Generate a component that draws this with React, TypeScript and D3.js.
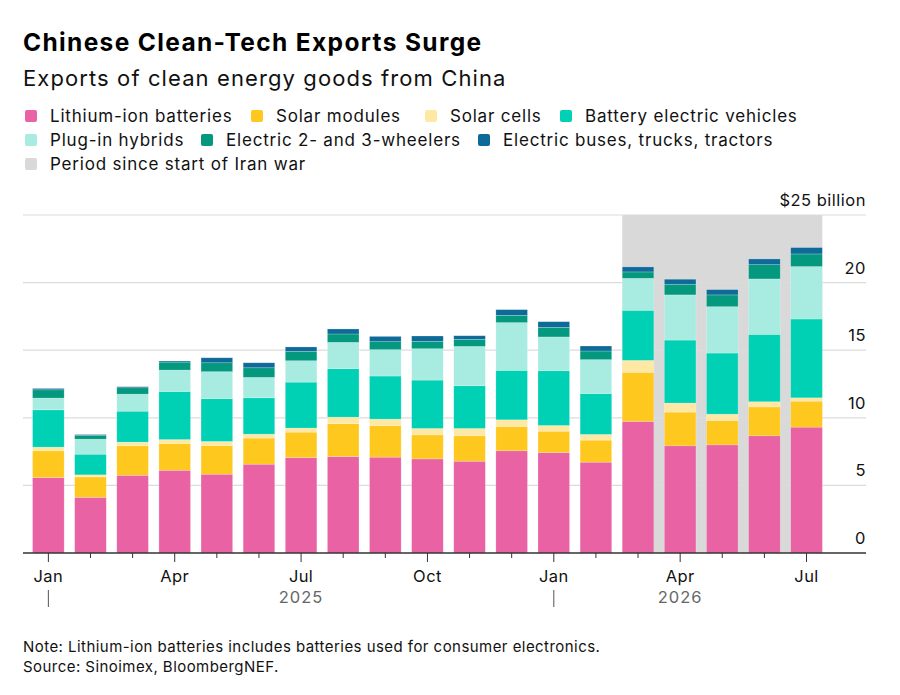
import React from "react";
import * as d3 from "d3";

const months = [
  "2025-01","2025-02","2025-03","2025-04","2025-05","2025-06","2025-07","2025-08","2025-09","2025-10","2025-11","2025-12",
  "2026-01","2026-02","2026-03","2026-04","2026-05","2026-06","2026-07",
];
const monthLabels = ["Jan","","","Apr","","","Jul","","","Oct","","","Jan","","","Apr","","","Jul"];

const lithium = [5.58,4.12,5.75,6.12,5.83,6.57,7.06,7.14,7.09,6.96,6.79,7.56,7.43,6.72,9.73,7.93,8.0,8.67,9.31];
const solarModules = [1.98,1.51,2.18,1.98,2.12,1.93,1.88,2.42,2.34,1.78,1.88,1.8,1.58,1.63,3.63,2.49,1.8,2.14,1.92];
const solarCells = [0.27,0.15,0.27,0.29,0.3,0.29,0.3,0.49,0.47,0.47,0.54,0.49,0.42,0.42,0.89,0.67,0.47,0.38,0.25];
const bev = [2.76,1.53,2.29,3.56,3.16,2.69,3.4,3.58,3.19,3.58,3.16,3.66,4.05,3.03,3.7,4.66,4.52,4.98,5.83];
const phev = [0.87,1.11,1.26,1.58,2.0,1.51,1.58,1.95,1.95,2.32,2.91,3.53,2.5,2.5,2.37,3.34,3.43,4.1,3.88];
const wheelers = [0.61,0.27,0.47,0.59,0.66,0.71,0.69,0.62,0.59,0.54,0.52,0.54,0.71,0.64,0.47,0.79,0.87,1.06,0.93];
const buses = [0.1,0.07,0.08,0.08,0.37,0.37,0.33,0.37,0.39,0.4,0.27,0.42,0.42,0.37,0.37,0.37,0.39,0.42,0.47];

const seriesNames = [
  "Lithium-ion batteries","Solar modules","Solar cells","Battery electric vehicles",
  "Plug-in hybrids","Electric 2- and 3-wheelers","Electric buses, trucks, tractors",
];
const seriesColors = ["#e862a4","#ffc81f","#ffe8a3","#00d1b4","#a8ebe0","#04997f","#0e6b99"];
const seriesValues = [lithium, solarModules, solarCells, bev, phev, wheelers, buses];

const yTicks = [0,5,10,15,20,25];
const shadeStart = "2026-03";
const shadeEnd = "2026-07";
const yearLabels = [{ at: "2025-07", text: "2025" }, { at: "2026-04", text: "2026" }];
const yearSeparators = ["2025-01","2026-01"];

const FONT = "Inter, 'Liberation Sans', Arial, sans-serif";

export default function App() {
  const width = 900, height = 695;
  const left = 23, right = 866;
  const y0 = 553;
  const x = d3.scaleBand<string>().domain(months).range([27.3, 27.3 + 42.12 * months.length]).paddingInner(0.25).paddingOuter(0.125);
  const y = d3.scaleLinear().domain([0, 25]).range([y0, 215]);

  const rows = months.map((m, i) => {
    const r: any = { month: m };
    seriesNames.forEach((s, j) => (r[s] = seriesValues[j][i]));
    return r;
  });
  const stacked = d3.stack<any>().keys(seriesNames)(rows);

  const shadeX0 = x(shadeStart)!;
  const shadeX1 = x(shadeEnd)! + x.bandwidth();

  const legendRows = [
    [{ i: 0, x: 25 }, { i: 1, x: 251 }, { i: 2, x: 425 }, { i: 3, x: 560 }],
    [{ i: 4, x: 25 }, { i: 5, x: 201 }, { i: 6, x: 478 }],
  ];
  const legendY = [116, 140, 164];

  return (
    <svg width={width} height={height} style={{ position: "absolute", left: 0, top: 0, background: "#fff" }} fontFamily={FONT}>
      <text x={23} y={51} fontSize={24.5} fontWeight={700} fill="#000" letterSpacing={1.35}>Chinese Clean-Tech Exports Surge</text>
      <text x={23} y={85.5} fontSize={22} fill="#111" letterSpacing={1.1}>Exports of clean energy goods from China</text>

      {legendRows.map((row, ri) =>
        row.map((it) => (
          <g key={`${ri}-${it.i}`}>
            <rect x={it.x} y={legendY[ri] - 6} width={12} height={12} rx={2} fill={seriesColors[it.i]} />
            <text x={it.x + 25} y={legendY[ri] + 6} fontSize={17} fill="#111" letterSpacing={0.8}>{seriesNames[it.i]}</text>
          </g>
        ))
      )}
      <rect x={25} y={legendY[2] - 6} width={12} height={12} rx={2} fill="#d9d9d9" />
      <text x={50} y={legendY[2] + 6} fontSize={17} fill="#111" letterSpacing={0.8}>Period since start of Iran war</text>

      <rect x={shadeX0} y={y(25)} width={shadeX1 - shadeX0} height={y0 - y(25)} fill="#d9d9d9" />

      {yTicks.map((t) => (
        <g key={t}>
          {t > 0 && <line x1={left} x2={right} y1={y(t)} y2={y(t)} stroke="#dcdcdc" strokeWidth={1.2} />}
          <text x={right} y={y(t) - 9} fontSize={16.5} textAnchor="end" fill="#111" letterSpacing={0.5}>{t === 25 ? "$25 billion" : t}</text>
        </g>
      ))}

      {stacked.map((layer, j) => (
        <g key={layer.key} fill={seriesColors[j]}>
          {layer.map((d, i) => (
            <rect key={i} x={x(months[i])} y={y(d[1])} width={x.bandwidth()} height={y(d[0]) - y(d[1])}
              stroke="#ffffff" strokeOpacity={0.35} strokeWidth={0.6} />
          ))}
        </g>
      ))}

      <line x1={left} x2={right} y1={y0} y2={y0} stroke="#333" strokeWidth={1.3} />
      {months.map((m, i) => {
        const cx = x(m)! + x.bandwidth() / 2;
        const major = monthLabels[i] !== "";
        return (
          <g key={m}>
            <line x1={cx} x2={cx} y1={y0} y2={y0 + (major ? 9 : 5)} stroke="#333" strokeWidth={1} />
            {major && <text x={cx} y={581.5} fontSize={16.5} textAnchor="middle" fill="#111" letterSpacing={0.4}>{monthLabels[i]}</text>}
          </g>
        );
      })}
      {yearSeparators.map((m) => {
        const cx = x(m)! + x.bandwidth() / 2;
        return <line key={m} x1={cx} x2={cx} y1={590} y2={607} stroke="#555" strokeWidth={1} />;
      })}
      {yearLabels.map((yl) => (
        <text key={yl.text} x={x(yl.at)! + x.bandwidth() / 2} y={603} fontSize={16.5} textAnchor="middle" fill="#666" letterSpacing={1}>{yl.text}</text>
      ))}

      <text x={23} y={651.5} fontSize={15} fill="#111" letterSpacing={0.45}>Note: Lithium-ion batteries includes batteries used for consumer electronics.</text>
      <text x={23} y={671.5} fontSize={15} fill="#111" letterSpacing={0.45}>Source: Sinoimex, BloombergNEF.</text>
    </svg>
  );
}
